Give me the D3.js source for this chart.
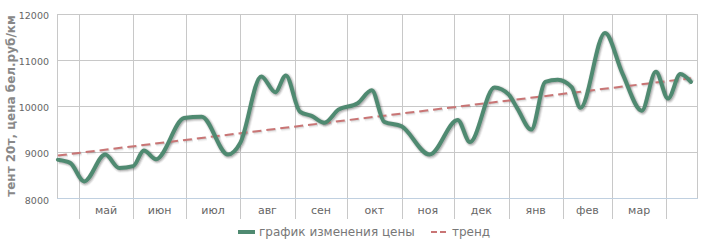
<html>
<head>
<meta charset="utf-8">
<script src="https://cdnjs.cloudflare.com/ajax/libs/d3/7.8.5/d3.min.js"></script>
<style>
    body { margin: 0; background: #fff; }
    svg { font-family: "DejaVu Sans", Verdana, sans-serif; }
    .grid line { stroke: #c8c8c8; stroke-width: 1; shape-rendering: crispEdges; }
    .lbl { fill: #666; font-size: 11px; }
    .ylbl { fill: #666; font-size: 9.5px; }
    .legend text { fill: #777; font-size: 12px; }
</style>
</head>
<body>
<svg id="chart" width="713" height="251"></svg>
<script>
// данные
var dates = ["2014-04-19","2014-04-26","2014-05-04","2014-05-16","2014-05-24","2014-06-01","2014-06-07",
             "2014-06-14","2014-06-30","2014-07-10","2014-07-25","2014-08-01","2014-08-13","2014-08-21",
             "2014-08-27","2014-09-04","2014-09-11","2014-09-18","2014-09-26","2014-10-07","2014-10-15",
             "2014-10-22","2014-11-01","2014-11-17","2014-12-03","2014-12-10","2014-12-24","2015-01-01",
             "2015-01-06","2015-01-14","2015-01-22","2015-01-29","2015-02-06","2015-02-11","2015-02-25",
             "2015-03-07","2015-03-18","2015-03-26","2015-04-02","2015-04-09","2015-04-15"];
var prices = [8840,8770,8370,8950,8660,8700,9040,8850,9740,9770,8950,9200,10640,10300,10660,9880,9780,9640,
              9920,10060,10340,9660,9560,8950,9700,9220,10400,10250,9950,9490,10520,10570,10410,9960,11580,
              10700,9900,10740,10160,10690,10520];
var trendValues = [8930, 10600];
var monthLabels = ["май","июн","июл","авг","сен","окт","ноя","дек","янв","фев","мар"];
var yTicks = [8000, 9000, 10000, 11000, 12000];
var axisSpan = ["2014-04-18 12", "2015-04-18 12"];
var yTitle = "тент 20т, цена бел.руб/км";
var seriesName = "график изменения цены", trendName = "тренд";

var parseDay = d3.timeParse("%Y-%m-%d");
var parseHour = d3.timeParse("%Y-%m-%d %H");

var data = dates.map(function(d, i){ return {date: parseDay(d), value: prices[i]}; });
var trend = [{date: data[0].date, value: trendValues[0]},
             {date: data[data.length-1].date, value: trendValues[1]}];

var pLeft = 57, pRight = 697, pTop = 13.5, pBottom = 198.5;

var x = d3.scaleTime().domain(axisSpan.map(parseHour)).range([pLeft, pRight]);
var y = d3.scaleLinear().domain([8000, 12000]).range([pBottom, pTop]);

var svg = d3.select("#chart");

// горизонтальная сетка
var grid = svg.append("g").attr("class", "grid");
grid.selectAll("line.h")
    .data(yTicks.filter(function(v){ return v > 8000; }))
    .enter().append("line")
    .attr("x1", pLeft).attr("x2", pRight)
    .attr("y1", function(d){ return Math.round(y(d)) + 0.5; })
    .attr("y2", function(d){ return Math.round(y(d)) + 0.5; });

// границы месяцев
var months = d3.timeMonth.range(d3.timeMonth.ceil(x.domain()[0]), x.domain()[1]);
grid.selectAll("line.v")
    .data(months)
    .enter().append("line")
    .attr("x1", function(d){ return Math.round(x(d)) + 0.5; })
    .attr("x2", function(d){ return Math.round(x(d)) + 0.5; })
    .attr("y1", pTop).attr("y2", pBottom + 20);
grid.selectAll("line.edge")
    .data([pLeft, pRight])
    .enter().append("line")
    .attr("x1", function(d){ return d + 0.5; })
    .attr("x2", function(d){ return d + 0.5; })
    .attr("y1", pTop).attr("y2", pBottom);

// ось x
svg.append("line")
    .attr("x1", pLeft).attr("x2", pRight + 1)
    .attr("y1", pBottom).attr("y2", pBottom)
    .style("stroke", "#c0d0e0").style("stroke-width", 1);

svg.selectAll("text.xl")
    .data(monthLabels)
    .enter().append("text")
    .attr("class", "lbl")
    .attr("text-anchor", "middle")
    .attr("x", function(d, i){ return (x(months[i]) + x(months[i+1])) / 2; })
    .attr("y", 214)
    .text(function(d){ return d; });

// ось y
svg.selectAll("text.yl")
    .data(yTicks)
    .enter().append("text")
    .attr("class", "ylbl")
    .attr("text-anchor", "end")
    .attr("x", 49)
    .attr("y", function(d){ return y(d) + 5; })
    .text(function(d){ return d; });

svg.append("text")
    .attr("transform", "translate(15," + ((pTop + pBottom) / 2) + ") rotate(-90)")
    .attr("text-anchor", "middle")
    .style("font-size", "12px").style("font-weight", "bold").style("fill", "#888")
    .text(yTitle);

var line = d3.line()
    .x(function(d){ return x(d.date); })
    .y(function(d){ return y(d.value); })
    .curve(d3.curveMonotoneX);
var straight = d3.line()
    .x(function(d){ return x(d.date); })
    .y(function(d){ return y(d.value); });

// тени
[[5, 0.05], [3, 0.1], [1, 0.15]].forEach(function(s){
    svg.append("path").attr("d", line(data))
        .attr("transform", "translate(1,1)")
        .style("fill", "none").style("stroke", "#000")
        .style("stroke-opacity", s[1]).style("stroke-width", s[0] + 3);
    svg.append("path").attr("d", straight(trend))
        .attr("transform", "translate(1,1)")
        .style("fill", "none").style("stroke", "#000")
        .style("stroke-dasharray", "9,5")
        .style("stroke-opacity", s[1] * 0.6).style("stroke-width", s[0]);
});

svg.append("path").attr("d", straight(trend))
    .style("fill", "none").style("stroke", "#c97575")
    .style("stroke-width", 2).style("stroke-dasharray", "9,5");

svg.append("path").attr("d", line(data))
    .style("fill", "none").style("stroke", "#4f8a71")
    .style("stroke-width", 4).style("stroke-linejoin", "round").style("stroke-linecap", "round");

// легенда
var legend = svg.append("g").attr("class", "legend");
legend.append("line")
    .attr("x1", 238).attr("x2", 255).attr("y1", 232).attr("y2", 232)
    .style("stroke", "#4f8a71").style("stroke-width", 4);
legend.append("text").attr("x", 259).attr("y", 236).text(seriesName);
legend.append("line")
    .attr("x1", 431).attr("x2", 447).attr("y1", 232).attr("y2", 232)
    .style("stroke", "#c97575").style("stroke-width", 2).style("stroke-dasharray", "6,3");
legend.append("text").attr("x", 452).attr("y", 236).text(trendName);
</script>
</body>
</html>
